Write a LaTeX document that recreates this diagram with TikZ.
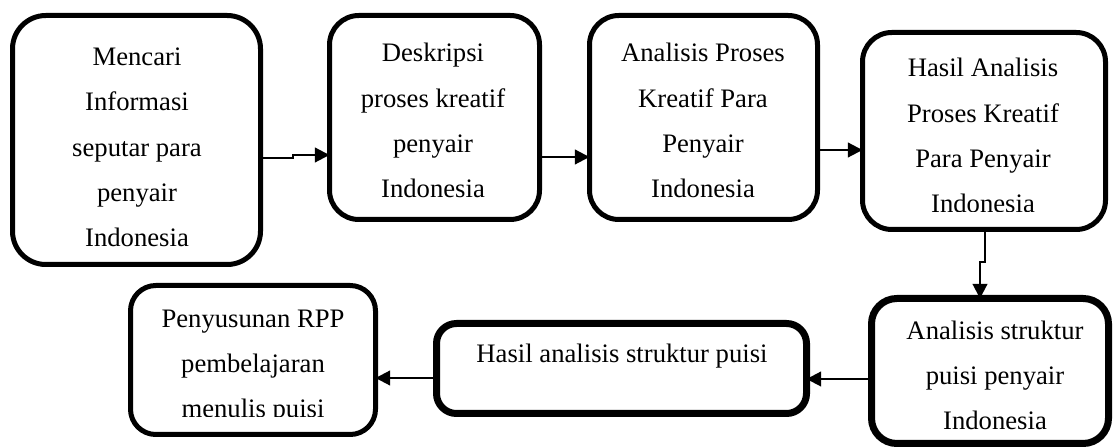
\documentclass[tikz,border=0pt]{standalone}
\usepackage{fontspec}
\setmainfont{Liberation Serif}
\usetikzlibrary{arrows.meta}
\begin{document}
\begin{tikzpicture}[x=0.75pt,y=-0.75pt,
  box/.style={draw=black, fill=white, line width=3.75pt, inner sep=0pt, outer sep=0pt},
  thickbox/.style={box, line width=5.25pt},
  txt/.style={align=center, font=\fontsize{20pt}{34.1pt}\selectfont, inner sep=0pt, anchor=base},
  conn/.style={line width=1.6pt, -{Triangle[length=11pt,width=11pt]}}]
\useasboundingbox (0,0) rectangle (1113,448);
% boxes
\node[box, rounded corners=25pt, minimum width=186pt, minimum height=186.75pt] (b1) at (136.5,140) {};
\node[box, rounded corners=22pt, minimum width=157.5pt, minimum height=153pt] (b2) at (434.5,117.5) {};
\node[box, rounded corners=22pt, minimum width=171pt, minimum height=153pt] (b3) at (703.5,117.5) {};
\node[box, rounded corners=22pt, minimum width=182.25pt, minimum height=147.75pt] (b4) at (984,131) {};
\node[thickbox, rounded corners=19pt, minimum width=177.75pt, minimum height=108.75pt] (b5) at (990,371) {};
\node[thickbox, rounded corners=15pt, minimum width=277.5pt, minimum height=67.5pt] (b6) at (621.5,368.5) {};
\node[box, rounded corners=19pt, minimum width=183.75pt, minimum height=111.75pt] (b7) at (253,360) {};
% texts (base anchor = baseline of the last line)
\node[txt] (t1) at (137,247) {Mencari\\Informasi\\seputar para\\penyair\\Indonesia};
\node[txt] (t2) at (433,198) {Deskripsi\\proses kreatif\\penyair\\Indonesia};
\node[txt] (t3) at (703,198) {Analisis Proses\\Kreatif Para\\Penyair\\Indonesia};
\begin{scope}
\clip (850,20) rectangle (1110,212);
\node[txt] (t4) at (983,213) {Hasil Analisis\\Proses Kreatif\\Para Penyair\\Indonesia};
\end{scope}
\node[txt] (t5) at (995,430) {Analisis struktur\\puisi penyair\\Indonesia};
\node[txt] (t6) at (622,363) {Hasil analisis struktur puisi};
\begin{scope}
\clip (120,280) rectangle (380,417);
\node[txt] (t7) at (253,418) {Penyusunan RPP\\pembelajaran\\menulis puisi};
\end{scope}
% connectors
\coordinate (j1) at (293,158);
\coordinate (j2) at (293,155);
\draw[conn] (b1.east |- j1) -- (j1) -- (j2) -- (b2.west |- j2);
\coordinate (r2) at (0,157);
\draw[conn] (b2.east |- r2) -- (b3.west |- r2);
\coordinate (r3) at (0,150);
\draw[conn] (b3.east |- r3) -- (b4.west |- r3);
\coordinate (k1) at (985,262);
\coordinate (k2) at (980,262);
\draw[conn] (b4.south -| k1) -- (k1) -- (k2) -- (b5.north -| k2);
\coordinate (r5) at (0,379);
\draw[conn] (b5.west |- r5) -- (b6.east |- r5);
\coordinate (r6) at (0,378);
\draw[conn] (b6.west |- r6) -- (b7.east |- r6);
\end{tikzpicture}
\end{document}
